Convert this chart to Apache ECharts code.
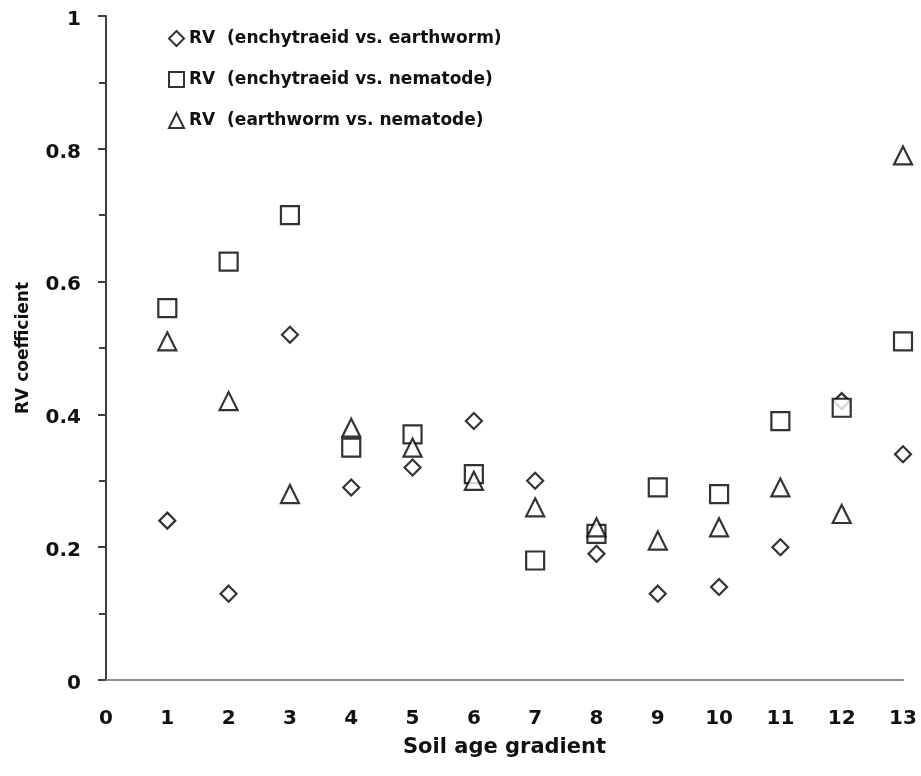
<!DOCTYPE html>
<html>
<head>
<meta charset="utf-8">
<script src="https://cdn.jsdelivr.net/npm/echarts@6/dist/echarts.min.js"></script>
<style>
  html, body { margin: 0; padding: 0; background: #fff; }
  #chart { width: 921px; height: 776px; }
</style>
</head>
<body>
<div id="chart"></div>
<script>
// Soil age gradient positions (sites 1..13)
const sites = [1, 2, 3, 4, 5, 6, 7, 8, 9, 10, 11, 12, 13];

// RV coefficients for each pair of soil fauna groups
const rvEnchEarth = [0.24, 0.13, 0.52, 0.29, 0.32, 0.39, 0.30, 0.19, 0.13, 0.14, 0.20, 0.42, 0.34];
const rvEnchNema  = [0.56, 0.63, 0.70, 0.35, 0.37, 0.31, 0.18, 0.22, 0.29, 0.28, 0.39, 0.41, 0.51];
const rvEarthNema = [0.51, 0.42, 0.28, 0.38, 0.35, 0.30, 0.26, 0.23, 0.21, 0.23, 0.29, 0.25, 0.79];

const seriesNames = [
  'RV  (enchytraeid vs. earthworm)',
  'RV  (enchytraeid vs. nematode)',
  'RV  (earthworm vs. nematode)'
];

const yTickLabels = { 0: '0', 0.2: '0.2', 0.4: '0.4', 0.6: '0.6', 0.8: '0.8', 1: '1' };

const FONT = '"DejaVu Sans", "Open Sans", sans-serif';

function pairs(vals) {
  return sites.map((s, i) => [s, vals[i]]);
}

const markerStyle = { color: '#ffffff', borderColor: '#000', borderWidth: 2.2 };

const chart = echarts.init(document.getElementById('chart'));
chart.setOption({
  animation: false,
  backgroundColor: '#ffffff',
  grid: { left: 106, right: 18, top: 16, bottom: 96, containLabel: false, outerBoundsMode: 'none' },
  legend: {
    orient: 'vertical',
    left: 163,
    top: 25,
    itemGap: 24,
    itemWidth: 15,
    itemHeight: 15,
    data: [
      { name: seriesNames[0], icon: 'diamond' },
      { name: seriesNames[1], icon: 'rect' },
      { name: seriesNames[2], icon: 'triangle' }
    ],
    textStyle: { fontFamily: FONT, fontWeight: 'bold', fontSize: 17, color: '#111' }
  },
  xAxis: {
    type: 'value',
    min: 0,
    max: 13,
    interval: 1,
    name: 'Soil age gradient',
    nameLocation: 'middle',
    nameGap: 57,
    nameTextStyle: { fontFamily: FONT, fontWeight: 'bold', fontSize: 21, color: '#111' },
    axisLine: { show: true, lineStyle: { color: '#8c8c8c', width: 2 } },
    axisTick: { show: false },
    splitLine: { show: false },
    axisLabel: { margin: 29, fontFamily: FONT, fontWeight: 'bold', fontSize: 20, color: '#111' }
  },
  yAxis: {
    type: 'value',
    min: 0,
    max: 1,
    interval: 0.2,
    name: 'RV coefficient',
    nameLocation: 'middle',
    nameGap: 74,
    nameRotate: 90,
    nameTextStyle: { fontFamily: FONT, fontWeight: 'bold', fontSize: 17, color: '#111' },
    axisLine: { show: true, lineStyle: { color: '#404040', width: 2 } },
    axisTick: { show: true, inside: false, length: 8, lineStyle: { color: '#404040', width: 2 } },
    minorTick: { show: true, splitNumber: 2, length: 7, lineStyle: { color: '#404040', width: 2 } },
    splitLine: { show: false },
    axisLabel: {
      margin: 25,
      fontFamily: FONT, fontWeight: 'bold', fontSize: 20, color: '#111',
      formatter: v => {
        const t = yTickLabels[Math.round(v * 10) / 10];
        return t === undefined ? '' : '{v|' + t + '}';
      },
      rich: {
        v: { fontFamily: FONT, fontWeight: 'bold', fontSize: 20, color: '#111', padding: [7, 0, 0, 0] }
      }
    }
  },
  series: [
    { name: seriesNames[0], type: 'scatter', symbol: 'diamond', symbolSize: 16, itemStyle: markerStyle, data: pairs(rvEnchEarth) },
    { name: seriesNames[1], type: 'scatter', symbol: 'rect', symbolSize: 18, itemStyle: markerStyle, data: pairs(rvEnchNema) },
    { name: seriesNames[2], type: 'scatter', symbol: 'triangle', symbolSize: 18, itemStyle: markerStyle, data: pairs(rvEarthNema) }
  ]
});
</script>
</body>
</html>
